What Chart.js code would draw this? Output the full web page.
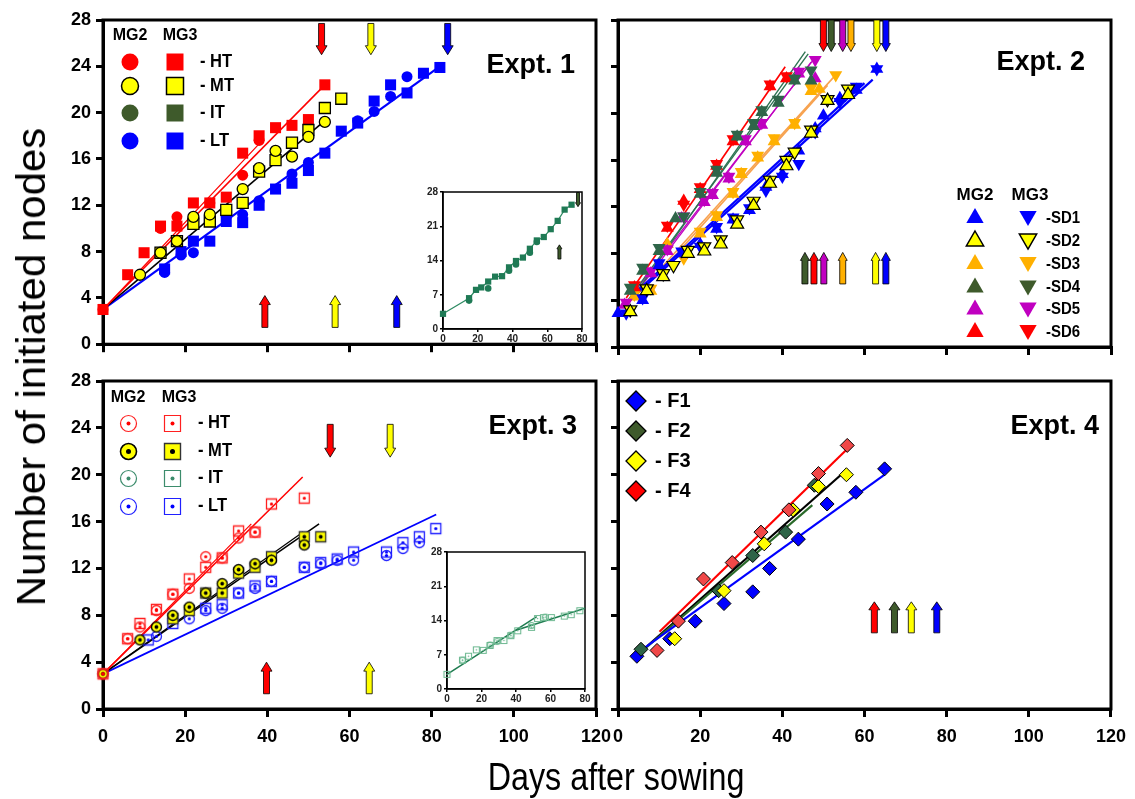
<!DOCTYPE html>
<html><head><meta charset="utf-8"><title>Initiated nodes</title>
<script src="https://cdn.jsdelivr.net/npm/chart.js@4.4.1/dist/chart.umd.min.js"></script>
<style>
html,body{margin:0;padding:0;background:#fff;overflow:hidden}
#wrap{position:relative;width:1135px;height:799px;overflow:hidden;background:#fff}
canvas{position:absolute}
.ttl{position:absolute;white-space:nowrap;font-family:"Liberation Sans",Arial,sans-serif;color:#000;line-height:1}
#ytitle{left:31px;top:367px;font-size:40px;transform:translate(-50%,-50%) rotate(-90deg) scaleX(1.05)}
#xtitle{left:616px;top:777px;font-size:38px;transform:translate(-50%,-50%) scaleX(0.85)}
</style></head><body>
<div id="wrap">
<canvas id="c1" width="620" height="360" style="left:0;top:0"></canvas>
<canvas id="c2" width="575" height="360" style="left:560px;top:0"></canvas>
<canvas id="c3" width="640" height="410" style="left:0;top:360px"></canvas>
<canvas id="c4" width="575" height="410" style="left:560px;top:360px"></canvas>
<canvas id="i1" width="180" height="170" style="left:415px;top:180px"></canvas>
<canvas id="i3" width="180" height="170" style="left:419px;top:540px"></canvas>
<div class="ttl" id="ytitle">Number of initiated nodes</div>
<div class="ttl" id="xtitle">Days after sowing</div>
</div>
<script>
// ---------------- DATA ----------------
const X_TICKS = [0,20,40,60,80,100,120];
const Y_TICKS = [0,4,8,12,16,20,24,28];
const INSET_X_TICKS = [0,20,40,60,80];
const INSET_Y_TICKS = [0,7,14,21,28];
const TITLES = ['Expt. 1','Expt. 2','Expt. 3','Expt. 4'];
const GROUPS = ['MG2','MG3'];
const TEMP_ROWS = ['HT','MT','IT','LT'];
const SD_ROWS = ['SD1','SD2','SD3','SD4','SD5','SD6'];
const F_ROWS = ['F1','F2','F3','F4'];

// Expt. 1
const e1_HT_MG2 = [[0,3],[14,10.0],[18,11.0],[26,12.2],[34,14.6],[38,17.6]];
const e1_HT_MG3 = [[0,3],[6,6.0],[10,7.9],[14,10.2],[18,10.2],[22,12.2],[26,12.2],[30,12.7],[34,16.5],[38,18.0],[42,18.7],[46,18.9],[50,19.4],[54,22.4]];
const e1_MT_MG2 = [[9,6.0],[14,7.9],[18,8.9],[22,11.0],[26,11.2],[34,13.4],[38,15.2],[42,16.7],[46,16.2],[50,17.9],[54,19.2]];
const e1_MT_MG3 = [[14,7.9],[18,8.9],[22,10.4],[26,10.6],[30,11.6],[34,12.2],[38,14.9],[42,15.9],[46,17.4],[50,18.5],[54,20.4],[58,21.2]];
const e1_LT_MG2 = [[15,6.2],[19,7.7],[22,7.9],[30,11.0],[34,11.2],[38,12.4],[46,14.7],[50,15.7],[62,19.3],[66,20.1],[70,21.4],[74,23.1]];
const e1_LT_MG3 = [[15,6.5],[19,8.0],[22,8.9],[26,8.9],[30,10.6],[34,10.5],[38,12.0],[42,13.4],[46,13.9],[50,15.0],[54,16.5],[58,18.4],[62,19.1],[66,21.0],[70,22.4],[74,21.7],[78,23.4],[82,23.9]];
const e1_fit_HT = [[0,3],[54,22.4]];
const e1_fit_HT2 = [[0,3],[38,17.3]];
const e1_fit_MT = [[0,3],[54,19.3]];
const e1_fit_LT = [[0,3],[82,24]];
const e1_arrows_down = [53.2, 65.2, 83.9];
const e1_arrows_up = [39.4, 56.5, 71.5];
// inset of Expt. 1 (IT)
const in1_MG2 = [[15,5.8],[26,8.3],[38,11.9],[42,13.2],[50,15.6],[54,17.8]];
const in1_MG3 = [[0,3.1],[15,6.3],[19,8.0],[22,8.5],[26,9.7],[30,10.7],[34,10.8],[38,12.6],[42,13.9],[46,14.6],[50,16.4],[54,18.1],[58,18.8],[62,20.4],[66,22.1],[70,24.4],[74,25.4]];
const in1_arrow_down = [77.7];
const in1_arrow_up = [67];

// Expt. 2
const e2_SD1_MG2 = [[0,2.9],[6,4.0],[10,7.0],[15.5,8.0],[20,8.8],[24,10.1],[28,10.9],[32,11.7],[36,13.7],[40,14.8],[44,16.8],[48,18.7],[50,19.8],[54,21.3],[58,22.0],[63,23.8]];
const e2_SD1_MG3 = [[2,2.9],[6,4.2],[10,7.2],[15.5,8.2],[20,8.6],[24,10.3],[28,11.1],[32,11.9],[36,13.4],[40,14.6],[44,15.7],[48,18.4],[54,21.0],[58,22.3],[63,23.8]];
const e2_SD2_MG2 = [[3,3.0],[7,4.8],[11,6.0],[17,8.0],[21,8.2],[25,8.8],[29,10.5],[33,12.1],[37,14.0],[41,15.5],[47,18.3],[51,21.1],[56,21.6]];
const e2_SD2_MG3 = [[3,3.2],[7,5.0],[11,6.3],[13.5,7.0],[17,8.3],[21,8.6],[25,9.2],[29,10.9],[33,12.5],[37,14.3],[41,16.0],[43,16.7],[47,18.6],[51,21.2],[56,22.1]];
const e2_SD3_MG2 = [[4,4.3],[8,4.8],[12,8.8],[20,9.7],[24,11.1],[28,13.1],[30,14.8],[34,16.2],[38,17.6],[43,19.0],[47,21.9],[49,22.1]];
const e2_SD3_MG3 = [[4,4.5],[8,5.0],[16,7.6],[20,9.9],[24,11.3],[28,13.3],[30,15.0],[34,16.4],[38,17.9],[43,19.2],[47,22.2],[53,23.3]];
const e2_SD4_MG2 = [[3,4.8],[6,6.5],[10,8.2],[14,11.0],[20,13.1],[24,14.9],[29,18.0],[33,18.9],[35,20.1],[39,20.9],[43,22.8],[47,22.8]];
const e2_SD4_MG3 = [[3,5.1],[6,6.8],[10,8.5],[16,11.2],[20,13.3],[24,15.2],[29,18.2],[33,19.2],[35,20.3],[39,21.2],[43,23.0],[47,23.7]];
const e2_SD5_MG2 = [[1.6,3.6],[8,6.3],[12,8.2],[15.5,11.0],[21,12.4],[23,13.0],[27,14.4],[31,17.6],[35,19.0],[44,23.4],[48,23.0]];
const e2_SD5_MG3 = [[2,3.8],[8,6.5],[12,8.4],[16,11.2],[21,12.6],[23,13.2],[27,14.6],[31,17.8],[35,19.2],[44,23.6],[48,24.6]];
const e2_SD6_MG2 = [[4,5.1],[12,10.2],[16,12.5],[20,13.5],[24,15.5],[28,17.6],[37,22.3],[41,23.0]];
const e2_SD6_MG3 = [[4,5.3],[12,10.4],[16,12.2],[20,13.7],[24,15.7],[28,17.8],[37,22.5],[41,23.2]];
const e2_fit_SD1 = [[5,4.7],[62,22.9]];
const e2_fit_SD1b = [[5,4.9],[60,22.6]];
const e2_fit_SD3 = [[8,5.8],[53,23.3]];
const e2_fit_SD3b = [[10,6.3],[51,22.4]];
const e2_fit_SD4 = [[2,3.8],[46.3,25.1]];
const e2_fit_SD4b = [[2.5,3.7],[45.6,25.3]];
const e2_fit_SD5 = [[1.6,3.6],[48,24.8]];
const e2_fit_SD5b = [[2,3.5],[47,24.4]];
const e2_fit_SD6 = [[2,4.2],[40.7,24.0]];
const e2_arrows_down = [50.0, 51.9, 54.7, 56.7, 63.0, 65.2];
const e2_arrows_up = [45.5, 47.7, 50.1, 54.7, 62.7, 65.2];

// Expt. 3
const e3_HT_MG2 = [[0,3],[6,6.0],[9,7.0],[13,8.4],[17,9.8],[21,10.3],[25,13.0],[29,12.9],[33,14.6],[37,15.1]];
const e3_HT_MG3 = [[0,3],[6,6.0],[9,7.3],[13,8.5],[17,9.8],[21,11.1],[25,12.1],[29,12.9],[33,15.2],[37,15.1],[41,17.5],[49,18.0]];
const e3_MT_MG2 = [[0,3],[9,5.9],[13,7.0],[17,8.0],[21,8.7],[25,9.9],[29,10.7],[33,11.9],[37,12.4],[41,12.7],[49,14.0]];
const e3_MT_MG3 = [[17,7.7],[21,8.4],[25,9.9],[29,9.9],[33,11.6],[37,12.1],[41,13.0],[49,14.7],[53,14.7]];
const e3_LT_MG2 = [[13,6.2],[21,7.7],[25,8.4],[29,8.6],[33,9.9],[37,10.3],[41,10.9],[49,12.1],[53,12.4],[57,12.7],[61,12.7],[69,13.1],[73,13.7],[77,14.2]];
const e3_LT_MG3 = [[11,5.9],[17,7.3],[25,8.6],[29,8.9],[33,9.9],[37,10.5],[41,10.9],[49,12.1],[53,12.5],[57,12.8],[61,13.4],[69,13.4],[73,14.2],[77,14.7],[81,15.4]];
const e3_fit_HT = [[0,3],[48.6,19.8]];
const e3_fit_HT2 = [[0,3],[36.1,15.8]];
const e3_fit_MT = [[0,3],[52.6,15.8]];
const e3_fit_MT2 = [[0,3],[48.7,15.1]];
const e3_fit_LT = [[0,3],[81.1,16.6]];
const e3_arrows_down = [55.3, 69.9];
const e3_arrows_up = [39.8, 64.8];
// inset of Expt. 3 (IT)
const in3_MG2 = [[9,5.9],[25,9.0],[29,9.7],[37,11.0],[49,13.0],[57,14.7]];
const in3_MG3 = [[0,3.0],[9,5.9],[12.5,6.7],[17,8.0],[21,7.9],[25,8.9],[29,9.9],[33,9.9],[37,10.9],[41,11.9],[49,12.6],[52.5,14.4],[56,14.6],[60.5,14.6],[68,14.9],[72,15.2],[77,16.0]];
const in3_fitA = [[0,3],[52,14.8]];
const in3_fitB = [[40,12.0],[80,16.5]];

// Expt. 4
const e4_F1 = [[4.6,4.5],[12.6,6.0],[18.8,7.5],[25.8,9.0],[32.8,10.0],[36.9,12.0],[43.9,14.5],[50.9,17.5],[57.9,18.5],[64.9,20.5]];
const e4_F2 = [[5.6,5.1],[24.5,10.1],[32.8,13.1],[40.8,15.1],[47.8,19.1]];
const e4_F3 = [[13.8,6.0],[25.8,10.1],[35.6,14.1],[42.6,17.0],[48.8,19.0],[55.6,20.0]];
const e4_F4 = [[9.5,5.0],[14.7,7.5],[20.8,11.1],[27.8,12.5],[34.8,15.1],[41.6,17.0],[48.8,20.1],[55.8,22.5]];
const e4_fit_F1 = [[5.6,5.0],[64.9,20.0]];
const e4_fit_F2 = [[6.4,5.1],[47.3,17.4]];
const e4_fit_F3 = [[7.2,5.4],[54.3,20.0]];
const e4_fit_F4 = [[10.1,6.6],[55.8,22.2]];
const e4_arrows_up = [62.4, 67.3, 71.4, 77.6];

// ---------------- STYLE ----------------
const FONT = '"Liberation Sans", Arial, Helvetica, sans-serif';
const C = {red:'#FF0000', yel:'#FFFF00', blue:'#0000FF', olive:'#3E5A2B', orange:'#FFB000', orangeLine:'#F7A24F',
  mag:'#C000C0', teal:'#2F6549', tealLine:'#2E7352', it3:'#3C8C6C', f4:'#F04848', f2:'#2E6447', f2line:'#2A6A2A',
  inset:'#1F7A55', insetLine:'#2E8B63', in3m:'#6DB891', in3l:'#1E7B4F'};

const P = a => a.map(p => ({x:p[0], y:p[1]}));
function pts(data, style, r, fill, stroke, bw, rot){
  return {type:'scatter', data:P(data), pointStyle:style, pointRadius:r, pointHoverRadius:r,
    pointBackgroundColor:fill || 'rgba(0,0,0,0)', pointBorderColor:stroke, pointBorderWidth:bw, pointRotation:rot||0,
    backgroundColor:fill || 'rgba(0,0,0,0)', borderColor:stroke, showLine:false, clip:false, order:0};
}
function fit(data, color, w){
  return {type:'line', data:P(data), borderColor:color, borderWidth:w, pointRadius:0, pointHoverRadius:0,
    showLine:true, fill:false, tension:0, clip:false, order:5};
}
function mkImg(shape, d, fill, stroke, lw, dotR, dotColor){
  const s = Math.ceil(d + lw + 3); const c = document.createElement('canvas'); c.width = c.height = s;
  const g = c.getContext('2d'); const m = s/2;
  g.beginPath(); if (shape === 'circle') g.arc(m, m, d/2, 0, Math.PI*2); else g.rect(m-d/2, m-d/2, d, d);
  if (fill) { g.fillStyle = fill; g.fill(); }
  g.lineWidth = lw; g.strokeStyle = stroke; g.stroke();
  if (dotR) { g.beginPath(); g.arc(m, m, dotR, 0, Math.PI*2); g.fillStyle = dotColor; g.fill(); }
  return c;
}
function axis(dir, o){
  return {type:'linear', position: dir === 'x' ? 'bottom' : 'left', min:o.min, max:o.max,
    afterBuildTicks: s => { s.ticks = o.ticks.map(v => ({value:v})); },
    afterFit: s => { if (dir === 'x') s.height = o.size; else s.width = o.size; },
    grid:{display:true, drawOnChartArea:false, drawTicks:true, tickLength:o.tl, tickWidth:o.tw, tickColor:'#000', color:'#000', lineWidth:o.tw},
    border:{display:true, color:'#000', width:o.bw},
    ticks:{display:o.labels, color:o.tc || '#000', padding:o.pad, autoSkip:false, maxRotation:0, minRotation:0,
      font:{family:FONT, weight:'bold', size:o.fs}, callback: v => String(v)}};
}
function txt(ctx, s, x, y, size, align, sx){
  ctx.save(); ctx.font = 'bold ' + size + 'px ' + FONT; ctx.fillStyle = '#000';
  ctx.textBaseline = 'middle'; ctx.textAlign = align || 'left';
  ctx.translate(x, y); ctx.scale(sx || 1, 1); ctx.fillText(s, 0, 0); ctx.restore();
}
function mark(ctx, shape, r, x, y, fill, stroke, bw, down){
  ctx.save(); ctx.beginPath();
  if (shape === 'circle') ctx.arc(x, y, r, 0, 2*Math.PI);
  else if (shape === 'square') ctx.rect(x-r, y-r, 2*r, 2*r);
  else if (shape === 'tri') { const s = down ? -1 : 1; ctx.moveTo(x, y - s*r); ctx.lineTo(x + r*0.866, y + s*r*0.5); ctx.lineTo(x - r*0.866, y + s*r*0.5); ctx.closePath(); }
  else if (shape === 'diamond') { ctx.moveTo(x, y-r); ctx.lineTo(x+r, y); ctx.lineTo(x, y+r); ctx.lineTo(x-r, y); ctx.closePath(); }
  if (fill) { ctx.fillStyle = fill; ctx.fill(); }
  if (bw > 0) { ctx.lineWidth = bw; ctx.strokeStyle = stroke; ctx.stroke(); }
  ctx.restore();
}
function img(ctx, im, x, y){ ctx.drawImage(im, Math.round(x - im.width/2), Math.round(y - im.height/2)); }
function drawArrow(ctx, x, yTail, yTip, color, sw, hw, hl){
  const d = yTip < yTail ? -1 : 1; const yb = yTip - d*hl;
  ctx.beginPath();
  ctx.moveTo(x - sw/2, yTail); ctx.lineTo(x - sw/2, yb); ctx.lineTo(x - hw/2, yb); ctx.lineTo(x, yTip);
  ctx.lineTo(x + hw/2, yb); ctx.lineTo(x + sw/2, yb); ctx.lineTo(x + sw/2, yTail); ctx.closePath();
  ctx.fillStyle = color; ctx.fill(); ctx.lineWidth = 0.8; ctx.strokeStyle = '#000'; ctx.stroke();
}
function framePlugin(w){
  return {id:'frame', beforeDatasetsDraw(chart){ const a = chart.chartArea, ctx = chart.ctx;
    ctx.save(); ctx.lineWidth = w; ctx.strokeStyle = '#000'; ctx.strokeRect(a.left, a.top, a.right - a.left, a.bottom - a.top); ctx.restore(); }};
}
function arrowsPlugin(sets){
  return {id:'arrows', afterDatasetsDraw(chart){ const ctx = chart.ctx, xs = chart.scales.x, ys = chart.scales.y; ctx.save();
    sets.forEach(s => s.days.forEach((d, i) => drawArrow(ctx, xs.getPixelForValue(d), ys.getPixelForValue(s.from), ys.getPixelForValue(s.to), s.colors[i], s.sw, s.hw, s.hl)));
    ctx.restore(); }};
}
function decoPlugin(ox, oy, fn){
  return {id:'deco', afterDraw(chart){ const ctx = chart.ctx; ctx.save(); ctx.translate(-ox, -oy); fn(ctx); ctx.restore(); }};
}
function makeChart(id, cfg){
  return new Chart(document.getElementById(id), {
    type:'scatter',
    data:{datasets:cfg.datasets},
    options:{responsive:false, maintainAspectRatio:false, animation:false, devicePixelRatio:1, events:[],
      layout:{autoPadding:false, padding:{left:0, top:cfg.pad[0], right:cfg.pad[1], bottom:0}},
      plugins:{legend:{display:false}, tooltip:{enabled:false}, title:{display:false}},
      scales:{x:axis('x', cfg.x), y:axis('y', cfg.y)}},
    plugins:[framePlugin(cfg.frameW), arrowsPlugin(cfg.arrows || []), decoPlugin(cfg.off[0], cfg.off[1], cfg.deco || (() => {}))]
  });
}
const mainX = (labels, size) => ({min:0, max:120, ticks:X_TICKS, size:size, tl:8, tw:3, bw:3, labels:labels, pad:9, fs:18});
const mainY = (labels, size) => ({min:0, max:28, ticks:Y_TICKS, size:size, tl:7, tw:3, bw:3, labels:labels, pad:5, fs:18});
const insX = () => ({min:0, max:80, ticks:INSET_X_TICKS, size:21, tl:3, tw:1.5, bw:1.5, labels:true, pad:1, fs:10, tc:'#222'});
const insY = () => ({min:0, max:28, ticks:INSET_Y_TICKS, size:28, tl:3, tw:1.5, bw:1.5, labels:true, pad:2, fs:10, tc:'#222'});

// ---------------- Expt. 1 ----------------
makeChart('c1', {
  datasets:[
    pts(e1_MT_MG2, 'circle', 5.5, C.yel, '#000', 1.3),
    pts(e1_MT_MG3, 'rect', 7.8, C.yel, '#000', 1.3),
    pts(e1_HT_MG2, 'circle', 5.5, C.red, C.red, 0),
    pts(e1_HT_MG3, 'rect', 7.8, C.red, C.red, 0),
    pts(e1_LT_MG2, 'circle', 5.5, C.blue, C.blue, 0),
    pts(e1_LT_MG3, 'rect', 7.8, C.blue, C.blue, 0),
    fit(e1_fit_HT, C.red, 1.6), fit(e1_fit_HT2, C.red, 1.2), fit(e1_fit_MT, '#000', 1.6), fit(e1_fit_LT, C.blue, 2.2)
  ],
  x:mainX(false, 13), y:mainY(true, 103), pad:[20, 24], off:[0, 0], frameW:3,
  arrows:[
    {days:e1_arrows_down, colors:[C.red, C.yel, C.blue], from:27.7, to:25.0, sw:6, hw:11, hl:9},
    {days:e1_arrows_up, colors:[C.red, C.yel, C.blue], from:1.45, to:4.2, sw:6, hw:11, hl:9}
  ],
  deco: ctx => {
    txt(ctx, GROUPS[0], 130, 36, 16, 'center'); txt(ctx, GROUPS[1], 180, 36, 16, 'center');
    const ys = [62, 86, 113, 141];
    const st = [[C.red, C.red, 0], [C.yel, '#000', 1.5], [C.olive, C.olive, 0], [C.blue, C.blue, 0]];
    TEMP_ROWS.forEach((r, i) => { mark(ctx, 'circle', 8.5, 130, ys[i], ...st[i]); mark(ctx, 'square', 8.5, 175, ys[i], ...st[i]); txt(ctx, '- ' + r, 200, ys[i], 18, 'left', 0.92); });
    txt(ctx, TITLES[0], 575, 66, 27, 'right');
  }
});
makeChart('i1', {
  datasets:[
    pts(in1_MG2, 'circle', 3.3, C.inset, C.inset, 0),
    pts(in1_MG3, 'rect', 4.4, C.inset, C.inset, 0),
    fit(in1_MG3, C.insetLine, 1.2)
  ],
  x:insX(), y:insY(), pad:[12, 13], off:[415, 180], frameW:1.5,
  arrows:[
    {days:in1_arrow_down, colors:[C.olive], from:27.9, to:25.0, sw:3, hw:5, hl:4},
    {days:in1_arrow_up, colors:[C.olive], from:14.3, to:17.2, sw:3, hw:5, hl:4}
  ]
});

// ---------------- Expt. 2 ----------------
const sdStyle = [[C.blue, C.blue, 0], [C.yel, '#000', 1.2], [C.orange, C.orange, 0], [C.teal, C.teal, 0], [C.mag, C.mag, 0], [C.red, C.red, 0]];
const e2pairs = [[e2_SD1_MG2, e2_SD1_MG3], [e2_SD2_MG2, e2_SD2_MG3], [e2_SD3_MG2, e2_SD3_MG3], [e2_SD4_MG2, e2_SD4_MG3], [e2_SD5_MG2, e2_SD5_MG3], [e2_SD6_MG2, e2_SD6_MG3]];
const e2ds = [];
[1, 0, 3, 4, 5, 2].forEach(i => {
  const [f, s, b] = sdStyle[i];
  e2ds.push(pts(e2pairs[i][0], 'triangle', 7.5, f, s, b, 0));
  e2ds.push(pts(e2pairs[i][1], 'triangle', 7.5, f, s, b, 180));
});
e2ds.push(fit(e2_fit_SD1, C.blue, 2.2), fit(e2_fit_SD1b, C.blue, 2.2), fit(e2_fit_SD3, C.orangeLine, 1.6), fit(e2_fit_SD3b, C.orangeLine, 1.6),
  fit(e2_fit_SD4, C.tealLine, 1.4), fit(e2_fit_SD4b, C.tealLine, 1.4), fit(e2_fit_SD5, C.mag, 1.3), fit(e2_fit_SD5b, C.mag, 1.3), fit(e2_fit_SD6, C.red, 1.6));
const arrowCols2 = [C.red, C.olive, C.mag, C.orange, C.yel, C.blue];
const arrowCols2up = [C.olive, C.red, C.mag, C.orange, C.yel, C.blue];
makeChart('c2', {
  datasets:e2ds,
  x:mainX(false, 13), y:mainY(false, 58), pad:[20, 24], off:[560, 0], frameW:3,
  arrows:[
    {days:e2_arrows_down, colors:arrowCols2, from:28, to:25.3, sw:6, hw:9, hl:8},
    {days:e2_arrows_up, colors:arrowCols2up, from:5.4, to:8.1, sw:6, hw:9, hl:8}
  ],
  deco: ctx => {
    txt(ctx, GROUPS[0], 975, 195, 17, 'center'); txt(ctx, GROUPS[1], 1030, 195, 17, 'center');
    const ys = [217, 240, 263, 286.5, 308.5, 331];
    const leg = [[C.blue, C.blue, 0], [C.yel, '#000', 1.5], [C.orange, C.orange, 0], [C.olive, C.olive, 0], [C.mag, C.mag, 0], [C.red, C.red, 0]];
    SD_ROWS.forEach((r, i) => {
      mark(ctx, 'tri', 10, 975, ys[i] + 1, ...leg[i], false);
      mark(ctx, 'tri', 10, 1028, ys[i] - 1, ...leg[i], true);
      txt(ctx, '-' + r, 1046, ys[i] + 1, 17, 'left', 0.88);
    });
    txt(ctx, TITLES[1], 1085, 63, 27, 'right');
  }
});

// ---------------- Expt. 3 ----------------
const m3 = {
  HTc: mkImg('circle', 10, null, '#FF2020', 1.3, 1.6, '#FF0000'), HTs: mkImg('rect', 10, null, '#FF2020', 1.3, 1.6, '#FF0000'),
  MTc: mkImg('circle', 10, C.yel, '#000', 1.4, 1.9, '#000'), MTs: mkImg('rect', 10, C.yel, '#333', 1.3, 1.9, '#000'),
  LTc: mkImg('circle', 10, null, '#2020FF', 1.3, 1.6, '#0000FF'), LTs: mkImg('rect', 10, null, '#2020FF', 1.3, 1.6, '#0000FF')
};
const l3 = [
  [mkImg('circle', 16, null, '#FF2020', 1.2, 2, '#FF0000'), mkImg('rect', 16, null, '#FF2020', 1.2, 2, '#FF0000')],
  [mkImg('circle', 16, C.yel, '#000', 1.6, 2.5, '#000'), mkImg('rect', 16, C.yel, '#333', 1.4, 2.5, '#000')],
  [mkImg('circle', 16, null, C.it3, 1.2, 2, C.it3), mkImg('rect', 16, null, C.it3, 1.2, 2, C.it3)],
  [mkImg('circle', 16, null, '#2020FF', 1.2, 2, '#0000FF'), mkImg('rect', 16, null, '#2020FF', 1.2, 2, '#0000FF')]
];
makeChart('c3', {
  datasets:[
    pts(e3_HT_MG2, m3.HTc, 5, null, '#f00', 0), pts(e3_HT_MG3, m3.HTs, 5, null, '#f00', 0),
    pts(e3_MT_MG2, m3.MTc, 5, null, '#000', 0), pts(e3_MT_MG3, m3.MTs, 5, null, '#000', 0),
    pts(e3_LT_MG2, m3.LTc, 5, null, '#00f', 0), pts(e3_LT_MG3, m3.LTs, 5, null, '#00f', 0),
    fit(e3_fit_HT, C.red, 1.5), fit(e3_fit_HT2, C.red, 1.2), fit(e3_fit_MT, '#000', 1.5), fit(e3_fit_MT2, '#000', 1.2), fit(e3_fit_LT, C.blue, 1.8)
  ],
  x:mainX(true, 61), y:mainY(true, 103), pad:[21, 44], off:[0, 360], frameW:3,
  arrows:[
    {days:e3_arrows_down, colors:[C.red, C.yel], from:24.3, to:21.5, sw:6, hw:11, hl:9},
    {days:e3_arrows_up, colors:[C.red, C.yel], from:1.3, to:4.0, sw:6, hw:11, hl:9}
  ],
  deco: ctx => {
    txt(ctx, GROUPS[0], 128, 398, 16, 'center'); txt(ctx, GROUPS[1], 179, 398, 16, 'center');
    const ys = [423, 451, 478, 506];
    TEMP_ROWS.forEach((r, i) => { img(ctx, l3[i][0], 128, ys[i]); img(ctx, l3[i][1], 172, ys[i]); txt(ctx, '- ' + r, 198, ys[i], 18, 'left', 0.92); });
    txt(ctx, TITLES[2], 577, 427, 27, 'right');
  }
});
const m3i = {c: mkImg('circle', 6, null, C.in3m, 1.1, 0.8, C.in3m), s: mkImg('rect', 6, null, C.in3m, 1.1, 0.8, C.in3m)};
makeChart('i3', {
  datasets:[
    pts(in3_MG2, m3i.c, 3, null, C.in3m, 0), pts(in3_MG3, m3i.s, 3, null, C.in3m, 0),
    fit(in3_fitA, C.in3l, 1.5), fit(in3_fitB, C.in3l, 1.5)
  ],
  x:insX(), y:insY(), pad:[12, 14], off:[419, 540], frameW:1.5
});

// ---------------- Expt. 4 ----------------
makeChart('c4', {
  datasets:[
    pts(e4_F4, 'rectRot', 7, C.f4, '#000', 1),
    pts(e4_F3, 'rectRot', 7, C.yel, '#000', 1),
    pts(e4_F2, 'rectRot', 7, C.f2, '#000', 1),
    pts(e4_F1, 'rectRot', 7, C.blue, '#000', 1),
    fit(e4_fit_F1, C.blue, 2.2), fit(e4_fit_F2, C.f2line, 2.2), fit(e4_fit_F3, '#000', 2.2), fit(e4_fit_F4, C.red, 2.2)
  ],
  x:mainX(true, 61), y:mainY(false, 58), pad:[21, 24], off:[560, 360], frameW:3,
  arrows:[{days:e4_arrows_up, colors:[C.red, C.olive, C.yel, C.blue], from:6.5, to:9.15, sw:6, hw:11, hl:8}],
  deco: ctx => {
    const ys = [401, 431, 461, 491];
    const leg = [C.blue, C.olive, C.yel, C.red];
    F_ROWS.forEach((r, i) => { mark(ctx, 'diamond', 10, 636, ys[i], leg[i], '#000', 1.3); txt(ctx, '- ' + r, 655, ys[i], 20, 'left'); });
    txt(ctx, TITLES[3], 1099, 427, 27, 'right');
  }
});
</script>
</body></html>
